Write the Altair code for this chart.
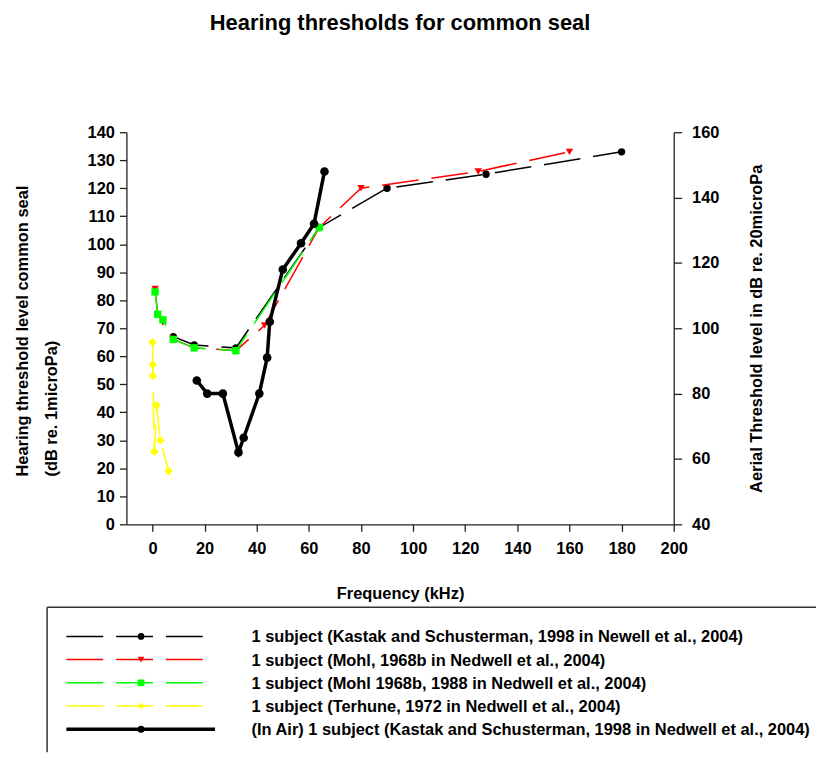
import altair as alt
import pandas as pd

# ---------------- data ----------------
ks_freq = [8, 16, 32, 64, 90, 128, 180]
ks_level = [67, 64, 63, 106, 120, 125, 133]

mohl_freq = [1, 2, 4, 8, 16, 32, 43, 64, 80, 125, 160]
mohl_level = [84, 75, 72, 66, 63, 62, 71, 106, 120, 126, 133]

mohl88_freq = [1, 2, 4, 8, 16, 32, 64]
mohl88_level = [83, 75, 73, 66, 63, 62, 106]

terhune_freq = [0.05, 0.1, 0.15, 0.7, 1.6, 3.0, 6.2]
terhune_level = [65, 57, 53, 26, 42.5, 30, 19]

air_freq = [17, 21, 27, 33, 35, 41, 44, 45, 50, 57, 62, 66]
air_level = [84, 80, 80, 62, 66.5, 80, 91, 102, 118, 126, 132, 148]   # right axis (dB re 20 microPa)

series_labels = [
    "1 subject (Kastak and Schusterman, 1998 in Newell et al., 2004)",
    "1 subject (Mohl, 1968b in Nedwell et al., 2004)",
    "1 subject (Mohl 1968b, 1988 in Nedwell et al., 2004)",
    "1 subject (Terhune, 1972  in Nedwell et al., 2004)",
    "(In Air) 1 subject (Kastak and Schusterman, 1998 in Nedwell et al., 2004)",
]
series_colors = ["#000000", "#FF0000", "#00FF00", "#FFFF00", "#000000"]
series_shapes = ["circle", "triangle-down", "square", "diamond", "circle"]

x_ticks = list(range(0, 201, 20))
left_ticks = list(range(0, 141, 10))
right_ticks = list(range(40, 161, 20))

FONT = "Liberation Sans"
FS = 16.5
W, H = 550, 394
DASH = [37, 13]

xscale = alt.Scale(domain=[-10, 200], nice=False, zero=False)
xaxis = alt.Axis(values=x_ticks, title="Frequency (kHz)", titlePadding=29,
                 labelPadding=9, labelFlush=False)
lscale = alt.Scale(domain=[0, 140], nice=False)
laxis = alt.Axis(values=left_ticks, title=None, orient="left", labelFlush=False)
rscale = alt.Scale(domain=[40, 160], nice=False, zero=False)
raxis = alt.Axis(values=right_ticks, orient="right",
                 title="Aerial Threshold level in dB re. 20microPa",
                 titleAngle=270, titlePadding=46, tickSize=8, labelPadding=10,
                 labelFlush=False)


def series(freq, level, color, shape, size, yscale, yaxis, width=1.5, dashed=True):
    df = pd.DataFrame({"f": freq, "v": level, "i": list(range(len(freq)))})
    base = alt.Chart(df).encode(
        x=alt.X("f:Q", scale=xscale, axis=xaxis),
        y=alt.Y("v:Q", scale=yscale, axis=yaxis),
        order="i:Q",
    )
    kw = dict(color=color, strokeWidth=width)
    if dashed:
        kw["strokeDash"] = DASH
    line = base.mark_line(**kw)
    pts = base.mark_point(shape=shape, filled=True, color=color, size=size, opacity=1)
    return [line, pts]


left = alt.layer(
    *series(ks_freq, ks_level, series_colors[0], series_shapes[0], 55, lscale, laxis),
    *series(mohl_freq, mohl_level, series_colors[1], series_shapes[1], 55, lscale, laxis),
    *series(mohl88_freq, mohl88_level, series_colors[2], series_shapes[2], 55, lscale, laxis),
    *series(terhune_freq, terhune_level, series_colors[3], series_shapes[3], 75, lscale, laxis),
)
right = alt.layer(
    *series(air_freq, air_level, series_colors[4], series_shapes[4], 75, rscale, raxis,
            width=3.5, dashed=False)
)

# ---------------- decorations: left axis title lines, legend ----------------
decor = []
left_title_lines = ["Hearing threshold level common seal", "(dB re. 1microPa)"]
for txt, xpos in zip(left_title_lines, [-104, -75]):
    decor.append(
        alt.Chart(pd.DataFrame({"t": [txt]})).mark_text(
            angle=270, align="left", baseline="middle", font=FONT, fontSize=FS,
            fontWeight="bold", color="black"
        ).encode(x=alt.value(xpos), y=alt.value(346), text="t:N")
    )

box_df = pd.DataFrame({"k": [0]})
decor.append(alt.Chart(box_df).mark_rule(color="#333333", strokeWidth=1.5).encode(
    x=alt.value(-79.7), y=alt.value(477.3), y2=alt.value(623)))
decor.append(alt.Chart(box_df).mark_rule(color="#333333", strokeWidth=1.5).encode(
    x=alt.value(-79.7), x2=alt.value(693), y=alt.value(477.3)))

row_y0, row_dy = 506.7, 23.3
for k, (lab, col, shp) in enumerate(zip(series_labels, series_colors, series_shapes)):
    yv = row_y0 + k * row_dy
    d = pd.DataFrame({"t": [lab]})
    if k < 4:
        decor.append(alt.Chart(d).mark_rule(color=col, strokeWidth=1.5, strokeDash=DASH).encode(
            x=alt.value(-60.3), x2=alt.value(76.7), y=alt.value(yv)))
        msize = 45
    else:
        decor.append(alt.Chart(d).mark_rule(color=col, strokeWidth=3.5).encode(
            x=alt.value(-60.3), x2=alt.value(89), y=alt.value(yv)))
        msize = 50
    decor.append(alt.Chart(d).mark_point(shape=shp, filled=True, color=col, size=msize, opacity=1).encode(
        x=alt.value(14.7), y=alt.value(yv)))
    decor.append(alt.Chart(d).mark_text(
        align="left", baseline="middle", font=FONT, fontSize=FS, fontWeight="bold", color="black"
    ).encode(x=alt.value(125.7), y=alt.value(yv + 1), text="t:N"))

chart = alt.layer(left, right, *decor).resolve_scale(y="independent").properties(
    width=W, height=H,
    title=alt.TitleParams("Hearing thresholds for common seal", font=FONT, fontSize=22,
                          fontWeight="bold", anchor="middle", offset=90, color="black"),
    autosize=alt.AutoSizeParams(type="none"),
    padding={"left": 119, "top": 123, "right": 143, "bottom": 229},
).configure_view(stroke="transparent").configure_axis(
    grid=False, labelFont=FONT, labelFontSize=FS, labelFontWeight="bold", labelColor="black",
    titleFont=FONT, titleFontSize=FS, titleFontWeight="bold", titleColor="black",
    domainColor="#222222", domainWidth=1.3, tickColor="#222222", tickWidth=1.3, tickSize=7,
    labelPadding=5,
)

chart.save("out.html", embed_options={"renderer": "svg", "actions": False})
